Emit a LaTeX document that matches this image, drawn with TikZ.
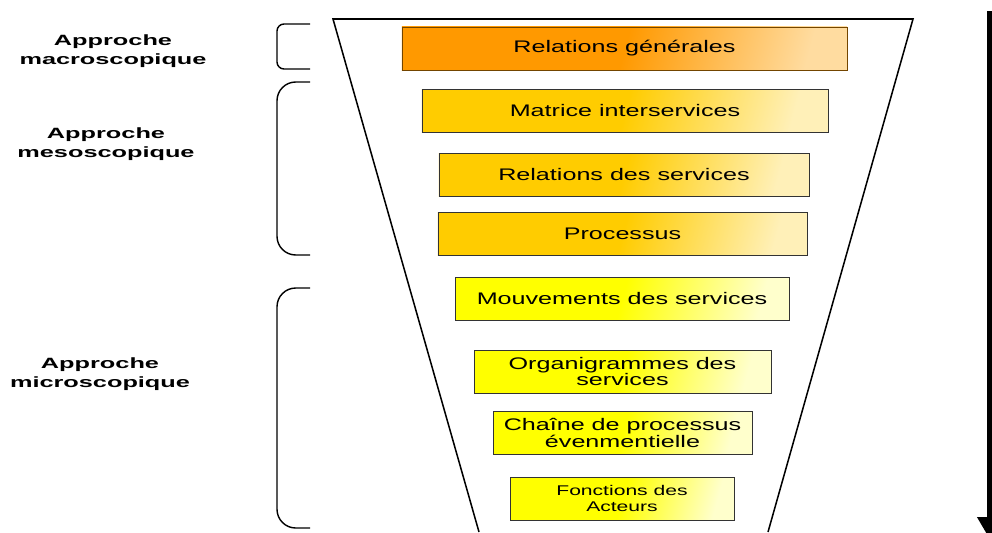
\documentclass[tikz,border=0pt]{standalone}
\usepackage{fontspec}
\setmainfont{Liberation Sans}
\newfontfamily\boxfont[FakeStretch=1.5]{Liberation Sans}
\newfontfamily\sidefont[FakeStretch=1.7]{Liberation Sans}
\usetikzlibrary{arrows.meta}
\definecolor{textcolor}{HTML}{000000}
\definecolor{edgecolor}{HTML}{333333}
\definecolor{orangedeep}{HTML}{FF9900}
\definecolor{orangelight}{HTML}{FFDCA0}
\definecolor{golddeep}{HTML}{FFCC00}
\definecolor{goldlight}{HTML}{FFF0B8}
\definecolor{yellowdeep}{HTML}{FFFF00}
\definecolor{yellowlight}{HTML}{FFFFCC}
\tikzset{
  level/.style={draw=edgecolor, line width=0.8pt, align=center, inner sep=0pt, minimum height=1.29cm, text=textcolor, font=\boxfont\fontsize{14.3}{14.5}\selectfont},
  levelorange/.style={level, draw=orangedeep!45!black, left color=orangedeep, right color=orangelight, middle color=orangedeep, shading angle=75},
  levelgold/.style={level, left color=golddeep, right color=goldlight, middle color=golddeep, shading angle=75},
  levelyellow/.style={level, left color=yellowdeep, right color=yellowlight, middle color=yellowdeep, shading angle=75},
  approach/.style={align=center, text=textcolor, font=\sidefont\bfseries\fontsize{12.7}{16.5}\selectfont},
  brace/.style={draw=black, line width=1.2pt},
  funnel/.style={draw=black, line width=1.3pt, line join=miter},
  flow/.style={-{Triangle[length=0.84cm,width=0.9cm]}, draw=black, line width=0.36cm},
}
\begin{document}
\begin{tikzpicture}[x=0.03cm,y=-0.03cm]
  \fill[white] (0,0) rectangle (992,532);
  \useasboundingbox (0,0) rectangle (992,532);

  \draw[funnel] (479,532) -- (333,19) -- (913,19) -- (768,532);

  \node[levelorange, minimum width=13.35cm] (generales) at (624.5,48.5) {Relations générales};
  \node[levelgold, minimum width=12.18cm] (matrice) at (625,111) {Matrice interservices};
  \node[levelgold, minimum width=11.10cm] (relations) at (624,174.5) {Relations des services};
  \node[levelgold, minimum width=11.07cm] (processus) at (622.5,233.5) {Processus};
  \node[levelyellow, minimum width=10.02cm] (mouvements) at (622,298.5) {Mouvements des services};
  \node[levelyellow, minimum width=8.91cm] (organigrammes) at (622.5,371.5) {Organigrammes des\\ services};
  \node[levelyellow, minimum width=7.77cm] (chaine) at (622.5,432.5) {Chaîne de processus\\ évenmentielle};
  \node[levelyellow, minimum width=6.72cm, font=\boxfont\fontsize{12}{13.7}\selectfont] (fonctions) at (622,498.5) {Fonctions des\\ Acteurs};

  \draw[brace, rounded corners=6pt] (310,24) -- (277,24) -- (277,69) -- (310,69);
  \draw[brace, rounded corners=16pt] (310,82) -- (277,82) -- (277,255) -- (310,255);
  \draw[brace, rounded corners=16pt] (310,288) -- (277,288) -- (277,528) -- (310,528);

  \node[approach] (macro) at (113,51) {Approche\\ macroscopique};
  \node[approach] (meso) at (106,144) {Approche\\ mesoscopique};
  \node[approach] (micro) at (100,374) {Approche\\ microscopique};

  \coordinate (flowtop) at (993,11);
  \coordinate (flowend) at (993,545);
  \draw[flow] (flowtop) -- (flowend);
\end{tikzpicture}
\end{document}
